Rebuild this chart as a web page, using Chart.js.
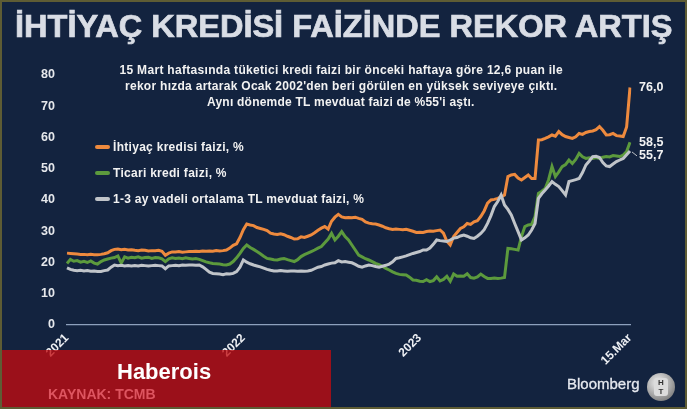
<!DOCTYPE html>
<html>
<head>
<meta charset="utf-8">
<script src="https://cdn.jsdelivr.net/npm/chart.js@4.4.1/dist/chart.umd.min.js"></script>
<style>
  body { margin:0; width:687px; height:409px; overflow:hidden; background:#13233f; position:relative; font-family:"Liberation Sans", Arial, sans-serif; }
  #frame { position:absolute; left:0; top:0; width:683px; height:405px; border:2px solid #5e5c34; pointer-events:none; z-index:5; }
  #wrap { position:absolute; left:0; top:0; width:687px; height:409px; }
  #title { position:absolute; top:9px; left:15px; white-space:nowrap; color:#d9dde5; font-weight:bold; font-size:31px; transform-origin:0 0; -webkit-text-stroke:0.7px #d9dde5; }
  .sub { position:absolute; white-space:nowrap; color:#f2f2f2; font-weight:bold; font-size:12px; }
  .leg { position:absolute; left:95px; height:14px; white-space:nowrap; color:#f2f2f2; font-weight:bold; font-size:12px; }
  .leg i { position:absolute; left:0; top:5px; width:15px; height:4px; border-radius:2px; }
  .leg span { position:absolute; left:18px; top:0; }
  #banner { position:absolute; left:0; top:350px; width:331px; height:59px; background:rgba(193,12,16,0.78); z-index:3; }
  #brand { position:absolute; left:117px; top:359px; color:#fff; font-weight:bold; font-size:22px; z-index:4; }
  #src { position:absolute; left:48px; top:386px; color:#de5560; font-weight:bold; font-size:14px; z-index:4; }
  #bb { position:absolute; left:567px; top:375px; color:#e6e9ef; font-size:15px; z-index:4; -webkit-text-stroke:0.3px #e6e9ef; }
  #logo { position:absolute; left:647px; top:373px; width:28px; height:28px; border-radius:50%; background:radial-gradient(circle at 40% 35%, #f4f4f4, #9a9a9a 60%, #5d5d5d); z-index:4; }
  #logo div { position:absolute; left:7px; top:5px; width:14px; height:18px; border-radius:3px; background:#dcdcdc; color:#333; font-size:8px; font-weight:bold; text-align:center; line-height:9px; }
</style>
</head>
<body>
<div id="wrap"><canvas id="c"></canvas></div>
<div id="frame"></div>
<div id="title">İHTİYAÇ KREDİSİ FAİZİNDE REKOR ARTIŞ</div>
<div class="sub" data-cx="341" data-w="443" style="top:63px">15 Mart haftasında tüketici kredi faizi bir önceki haftaya göre 12,6 puan ile</div>
<div class="sub" data-cx="341" data-w="432" style="top:79px">rekor hızda artarak Ocak 2002'den beri görülen en yüksek seviyeye çıktı.</div>
<div class="sub" data-cx="341" data-w="268" style="top:95px">Aynı dönemde TL mevduat faizi de %55'i aştı.</div>
<div id="legend"></div>
<div id="banner"></div>
<div id="brand">Haberois</div>
<div id="src">KAYNAK: TCMB</div>
<div id="bb">Bloomberg</div>
<div id="logo"><div>H<br>T</div></div>
<script>
// weekly data, 1 Jan 2021 .. 15 Mar 2024
const tickLabels = ['2021', '2022', '2023', '15.Mar'];
const tickIndex = [0, 52, 104, 166];

const ihtiyac = [
  23.0, 22.9, 22.8, 22.7, 22.6, 22.6, 22.5, 22.6, 22.5, 22.5,
  22.6, 22.8, 23.1, 23.8, 24.2, 24.3, 24.1, 24.2, 24.0, 24.1,
  23.9, 23.8, 24.0, 23.9, 23.7, 23.8, 23.8, 23.9, 23.6, 22.3,
  23.0, 23.4, 23.4, 23.5, 23.3, 23.4, 23.5, 23.5, 23.6, 23.5,
  23.7, 23.6, 23.7, 23.6, 23.8, 23.7, 23.8, 24.0, 24.6, 25.5,
  26.0, 28.0, 30.5, 32.3, 32.0, 31.8, 31.2, 30.9, 30.6, 30.2,
  29.4, 29.1, 29.0, 29.2, 28.9, 28.4, 28.0, 27.5, 27.6, 28.2,
  28.0, 28.4, 28.8, 29.5, 30.3, 31.0, 31.5, 30.7, 33.2, 34.5,
  35.4, 34.6, 34.3, 34.4, 34.3, 34.5, 34.1, 33.8, 33.0, 32.6,
  32.4, 32.3, 32.0, 31.6, 31.1, 30.8, 30.6, 30.7, 30.6, 30.5,
  30.6, 30.3, 30.0, 29.6, 29.7, 29.6, 29.9, 30.1, 30.0, 30.2,
  30.4, 29.4, 26.8, 25.6, 28.3, 29.6, 30.9, 31.4, 32.5, 32.2,
  33.0, 33.4, 34.7, 36.5, 39.0, 40.0, 40.2, 40.5, 41.0, 41.6,
  47.5, 48.0, 48.2, 47.0, 46.4, 47.2, 48.0, 46.9, 46.9, 59.2,
  59.3, 59.7, 60.2, 60.8, 60.4, 61.9, 60.9, 60.3, 60.0, 59.7,
  60.2, 61.3, 61.0, 61.6, 61.9, 62.1, 62.5, 63.5, 62.3, 60.8,
  60.9, 61.3, 60.6, 60.5, 60.3, 63.4, 76.0
];
const ticari = [
  19.7, 21.0, 20.4, 20.6, 20.1, 20.4, 20.0, 20.5, 19.8, 19.5,
  20.3, 20.8, 21.1, 21.4, 21.6, 22.1, 19.8, 21.8, 21.4, 21.7,
  21.5, 21.8, 21.4, 21.6, 21.7, 21.3, 21.6, 21.5, 21.2, 20.3,
  21.2, 21.5, 21.3, 21.4, 21.2, 21.5, 21.3, 21.1, 21.3, 21.0,
  20.6, 20.2, 19.9, 19.7, 19.6, 19.5, 19.3, 19.2, 19.5, 20.3,
  21.5, 22.9, 24.5, 25.6, 24.8, 24.2, 23.5, 22.8, 22.0, 21.3,
  21.1, 20.9, 20.8, 21.1, 21.3, 20.9, 20.6, 20.3, 20.9, 21.9,
  22.5, 23.0, 23.5, 24.0, 24.6, 25.1, 26.3, 27.5, 29.3, 27.2,
  28.4, 29.9, 28.3, 27.2, 25.6, 24.0, 22.4, 21.8, 21.2, 20.8,
  20.3, 19.7, 19.3, 18.8, 18.1, 17.6, 17.0, 16.5, 16.2, 16.1,
  16.0, 15.3, 14.4, 14.3, 14.0, 13.9, 14.5, 13.9, 14.2, 15.4,
  14.1, 14.6, 15.6, 14.0, 16.3, 15.6, 15.7, 15.6, 16.4, 15.2,
  15.0, 15.4, 16.3, 15.5, 14.9, 14.9, 15.0, 14.9, 15.0, 15.2,
  24.5, 24.4, 24.2, 24.0, 28.3, 31.5, 32.0, 32.2, 34.7, 42.1,
  42.8, 43.7, 46.5, 50.7, 47.5, 49.0, 50.7, 51.3, 52.8, 51.7,
  53.0, 54.9, 53.8, 53.3, 53.5, 53.3, 53.6, 53.3, 53.7, 53.9,
  53.8, 54.2, 54.1, 53.9, 54.4, 55.5, 58.5
];
const mevduat = [
  18.3, 17.8, 17.5, 17.4, 17.5, 17.3, 17.4, 17.2, 17.3, 17.1,
  17.1, 17.4, 17.6, 18.5, 19.2, 19.0, 19.1, 18.9, 19.0, 18.9,
  19.0, 18.9, 19.1, 19.0, 18.9, 19.0, 19.1, 19.0, 18.9, 18.0,
  18.9, 19.0, 19.1, 19.0, 19.2, 19.1, 19.2, 19.2, 19.1, 19.2,
  18.6, 17.8, 16.9, 16.5, 16.4, 16.3, 16.1, 16.4, 16.3, 16.5,
  17.1, 18.5, 20.8, 20.1, 19.6, 19.2, 18.9, 18.6, 18.2, 17.8,
  17.5, 17.3, 17.3, 17.4, 17.3, 17.2, 17.3, 17.3, 17.2, 17.3,
  17.2, 17.3, 17.5, 18.0, 18.5, 18.7, 19.2, 19.5, 19.8, 19.9,
  20.6, 20.2, 20.3, 20.1, 19.9, 19.4, 18.8, 18.5, 18.9, 19.2,
  19.0, 18.7, 18.5, 18.8, 19.1, 19.5, 20.2, 21.3, 21.5, 21.8,
  22.1, 22.5, 22.9, 23.2, 23.5, 24.0, 24.0, 24.6, 25.8, 27.2,
  27.0, 26.9, 26.7, 27.2, 27.8, 28.0, 28.5, 28.8, 28.4, 27.9,
  27.7, 28.4, 29.3, 30.5, 32.5, 35.0, 37.9, 39.5, 41.6, 38.4,
  37.0, 35.2, 32.5, 29.9, 27.2, 27.9, 28.8, 30.4, 32.5, 40.5,
  42.0, 43.2, 44.5, 45.9, 45.0, 44.3, 43.0, 41.6, 45.9, 46.2,
  46.5, 46.9, 48.8, 51.2, 52.5, 53.9, 54.0, 53.6, 52.0, 50.9,
  50.7, 51.5, 52.3, 52.8, 53.3, 54.5, 55.7
];
const seriesNames = ['İhtiyaç kredisi faizi, %', 'Ticari kredi faizi, %', '1-3 ay vadeli ortalama TL mevduat faizi, %'];
const seriesColors = ['#ee8a3e', '#5c9a3d', '#c0c4c9'];
const endLabels = ['76,0', '58,5', '55,7'];
const yTicks = [0, 10, 20, 30, 40, 50, 60, 70, 80];

// week labels
const weeks = [];
const start = new Date(2021, 0, 1);
for (let i = 0; i < ihtiyac.length; i++) {
  const d = new Date(start.getTime() + i * 7 * 864e5);
  weeks.push(d.toISOString().slice(0, 10));
}

const endLabelPlugin = {
  id: 'endLabels',
  afterDatasetsDraw(chart) {
    const ctx = chart.ctx;
    const y = chart.scales.y;
    const x = chart.scales.x;
    const px = x.getPixelForValue(ihtiyac.length - 1);
    const shift = [0, 0, 5];
    ctx.save();
    ctx.font = 'bold 12.5px "Liberation Sans", Arial, sans-serif';
    ctx.fillStyle = '#f2f2f2';
    ctx.textBaseline = 'middle';
    chart.data.datasets.forEach(ds => {
      const i = seriesNames.indexOf(ds.label);
      const v = ds.data[ds.data.length - 1];
      const py = y.getPixelForValue(v) + shift[i];
      if (i === 2) {
        ctx.strokeStyle = '#c0c4c9';
        ctx.lineWidth = 1;
        ctx.beginPath();
        ctx.moveTo(px + 2, py - 4);
        ctx.lineTo(px + 7, py);
        ctx.stroke();
      }
      ctx.fillText(endLabels[i], px + 9, py);
    });
    ctx.restore();
  }
};

// grey first, orange on top
const order = [2, 1, 0];
new Chart(document.getElementById('c'), {
  type: 'line',
  data: {
    labels: weeks,
    datasets: order.map(i => ({
      label: seriesNames[i],
      data: [ihtiyac, ticari, mevduat][i],
      borderColor: seriesColors[i],
      borderWidth: 3,
      pointRadius: 0,
      tension: 0,
      fill: false
    }))
  },
  options: {
    responsive: true,
    maintainAspectRatio: false,
    animation: false,
    layout: { padding: { left: 27, right: 57, top: 75, bottom: 0 } },
    plugins: { legend: { display: false }, tooltip: { enabled: false } },
    scales: {
      x: {
        grid: { display: false, drawTicks: false },
        border: { display: true, color: '#8da0bd', width: 1.2 },
        afterFit: s => { s.height = 84; },
        ticks: {
          autoSkip: false,
          maxRotation: 45,
          minRotation: 45,
          padding: 6,
          color: '#eef0f4',
          font: { family: '"Liberation Sans", Arial, sans-serif', size: 12, weight: 'bold' },
          callback: (val, idx) => {
            const k = tickIndex.indexOf(idx);
            return k >= 0 ? tickLabels[k] : null;
          }
        }
      },
      y: {
        min: 0,
        max: 80,
        afterFit: s => { s.width = 40; },
        afterBuildTicks: s => { s.ticks = yTicks.map(v => ({ value: v })); },
        grid: { display: false, drawTicks: false },
        border: { display: false },
        ticks: {
          padding: 12,
          color: '#e6e8ec',
          font: { family: '"Liberation Sans", Arial, sans-serif', size: 12.5, weight: 'bold' }
        }
      }
    }
  },
  plugins: [endLabelPlugin]
});
</script>
<script>
// title fit
const t = document.getElementById('title');
t.style.transform = 'scaleX(' + (657 / t.offsetWidth) + ')';
// subtitle lines: spread letters to the measured width
document.querySelectorAll('.sub').forEach(el => {
  const w = +el.dataset.w, cx = +el.dataset.cx;
  const n = el.textContent.length;
  const ls = (w - el.offsetWidth) / n;
  el.style.letterSpacing = ls + 'px';
  el.style.left = (cx - w / 2) + 'px';
});
// legend
const legWidths = [131, 114, 251];
const legTops = [140, 166, 192];
const lg = document.getElementById('legend');
seriesNames.forEach((n, i) => {
  const d = document.createElement('div');
  d.className = 'leg';
  d.style.top = legTops[i] + 'px';
  d.innerHTML = '<i style="background:' + seriesColors[i] + '"></i><span>' + n + '</span>';
  lg.appendChild(d);
  const sp = d.querySelector('span');
  sp.style.letterSpacing = ((legWidths[i] - sp.offsetWidth) / n.length) + 'px';
});
</script>
</body>
</html>
